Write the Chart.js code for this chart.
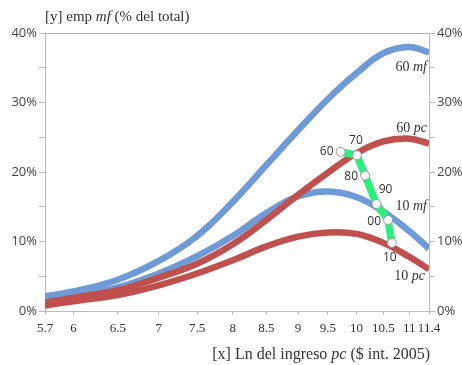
<!DOCTYPE html>
<html>
<head>
<meta charset="utf-8">
<script src="https://cdn.jsdelivr.net/npm/chart.js@4.4.1/dist/chart.umd.min.js"></script>
<style>
html,body{margin:0;padding:0;background:#fff;}
#wrap{width:462px;height:365px;position:relative;}
</style>
</head>
<body>
<div id="wrap"><canvas id="c" width="462" height="365"></canvas></div>
<script>
// Ln income per capita ticks (x, log-spaced axis)
const xTicks = [5.7, 6, 6.5, 7, 7.5, 8, 8.5, 9, 9.5, 10, 10.5, 11, 11.4];
// Curves (% of total employment)
const mf60 = [2.1, 2.8, 4.5, 7.2, 10.8, 15.7, 21.0, 26.0, 30.5, 34.2, 37.1, 38.0, 37.2];
const pc60 = [1.2, 1.9, 3.0, 4.8, 6.8, 9.6, 13.1, 16.7, 19.9, 22.7, 24.4, 24.8, 24.1];
const mf10 = [1.5, 2.1, 3.4, 5.4, 7.9, 10.8, 14.1, 16.5, 17.2, 16.4, 14.3, 11.5, 9.0];
const pc10 = [0.8, 1.4, 2.3, 3.7, 5.4, 7.3, 9.3, 10.7, 11.3, 11.1, 9.8, 7.8, 6.0];
// Path by decade
const pathLabels = ['60', '70', '80', '90', '00', '10'];
const pathX = [9.72, 10.01, 10.16, 10.37, 10.59, 10.66];
const pathY = [22.9, 22.4, 19.5, 15.4, 13.1, 9.8];
// Y ticks
const yMax = 40, yStep = 5;

const BLUE = '#6E9BD8', RED = '#C0504D', GREEN = '#2DF07C';
const SERIF = '"Liberation Serif", "DejaVu Serif", serif';
const SANS = '"Open Sans", "DejaVu Sans", sans-serif';

function curve(label, arr, color) {
  return {
    label, data: xTicks.map((x, i) => ({x, y: arr[i]})),
    borderColor: color, borderWidth: 6.5, pointRadius: 0,
    tension: 0.4, fill: false, capBezierPoints: false
  };
}

const pathOffsets = [[-14, 0], [-1, -15], [-14, 1], [9, -14], [-14, 2], [-2, 15]];

function drawMixed(ctx, parts, x, y, align, size) {
  let widths = parts.map(p => { ctx.font = (p[1] ? 'italic ' : '') + size + 'px ' + SERIF; return ctx.measureText(p[0]).width; });
  let total = widths.reduce((a, b) => a + b, 0);
  let cx = align === 'right' ? x - total : x;
  parts.forEach((p, i) => {
    ctx.font = (p[1] ? 'italic ' : '') + size + 'px ' + SERIF;
    ctx.textAlign = 'left';
    ctx.fillText(p[0], cx, y);
    cx += widths[i];
  });
}

const annot = {
  id: 'annot',
  afterDatasetsDraw(chart) {
    const ctx = chart.ctx, xs = chart.scales.x, ys = chart.scales.y, a = chart.chartArea;
    ctx.save();
    ctx.strokeStyle = '#b4b4b4'; ctx.lineWidth = 1;
    ctx.beginPath(); ctx.moveTo(a.left, a.top + 0.5); ctx.lineTo(a.right, a.top + 0.5); ctx.stroke();
    ctx.fillStyle = '#333'; ctx.font = '12px ' + SANS; ctx.textAlign = 'center'; ctx.textBaseline = 'middle';
    pathLabels.forEach((t, i) => {
      const px = xs.getPixelForValue(pathX[i]), py = ys.getPixelForValue(pathY[i]);
      ctx.fillText(t, px + pathOffsets[i][0], py + pathOffsets[i][1]);
    });
    ctx.fillStyle = '#333'; ctx.textBaseline = 'middle';
    const rx = a.right - 2;
    drawMixed(ctx, [['60 ', false], ['mf', true]], rx, ys.getPixelForValue(35.0), 'right', 14);
    drawMixed(ctx, [['60 ', false], ['pc', true]], rx, ys.getPixelForValue(26.3), 'right', 14);
    drawMixed(ctx, [['10 ', false], ['mf', true]], rx, ys.getPixelForValue(15.0), 'right', 14);
    drawMixed(ctx, [['10 ', false], ['pc', true]], rx - 2, ys.getPixelForValue(5.0), 'right', 14);
    ctx.textBaseline = 'alphabetic';
    drawMixed(ctx, [['[y] emp ', false], ['mf', true], [' (% del total)', false]], a.left, 21, 'left', 15);
    drawMixed(ctx, [['[x] Ln del ingreso ', false], ['pc', true], [' ($ int. 2005)', false]], a.right + 1, 359, 'right', 16);
    ctx.restore();
  }
};

const yTickCb = v => (v % 10 === 0 ? v + '%' : '');

new Chart(document.getElementById('c'), {
  type: 'line',
  data: {
    datasets: [
      {
        label: 'path', data: pathX.map((x, i) => ({x, y: pathY[i]})),
        borderColor: GREEN, borderWidth: 7.5, tension: 0,
        pointRadius: 4.5, pointBackgroundColor: '#fff', pointBorderColor: '#999', pointBorderWidth: 1
      },
      curve('60 pc', pc60, RED),
      curve('10 pc', pc10, RED),
      curve('10 mf', mf10, BLUE),
      curve('60 mf', mf60, BLUE)
    ]
  },
  options: {
    responsive: false, animation: false, devicePixelRatio: 1,
    layout: {padding: {top: 33, left: 0, right: 0, bottom: 0}},
    plugins: {legend: {display: false}, tooltip: {enabled: false}, title: {display: false}},
    scales: {
      x: {
        type: 'logarithmic', min: 5.7, max: 11.4,
        afterBuildTicks: s => { s.ticks = xTicks.map(v => ({value: v})); },
        afterFit: s => { s.height = 54; },
        grid: {drawOnChartArea: false, drawTicks: true, tickLength: 4, color: '#bbb'},
        border: {display: true, color: '#bbb'},
        ticks: {
          autoSkip: false, maxRotation: 0, padding: 6, color: '#333',
          font: {family: SERIF, size: 13},
          callback: v => String(v)
        }
      },
      y: {
        type: 'linear', position: 'left', min: 0, max: yMax,
        afterFit: s => { s.width = 45; },
        grid: {drawOnChartArea: false, drawTicks: true, tickLength: 6, color: '#bbb'},
        border: {display: true, color: '#bbb'},
        ticks: {stepSize: yStep, padding: 2, color: '#444', font: {family: SANS, size: 13}, callback: yTickCb}
      },
      y2: {
        type: 'linear', position: 'right', min: 0, max: yMax,
        afterFit: s => { s.width = 33; },
        grid: {drawOnChartArea: false, drawTicks: true, tickLength: 6, color: '#bbb'},
        border: {display: true, color: '#bbb'},
        ticks: {stepSize: yStep, padding: 2, color: '#444', font: {family: SANS, size: 13}, callback: yTickCb}
      }
    }
  },
  plugins: [annot]
});
</script>
</body>
</html>
